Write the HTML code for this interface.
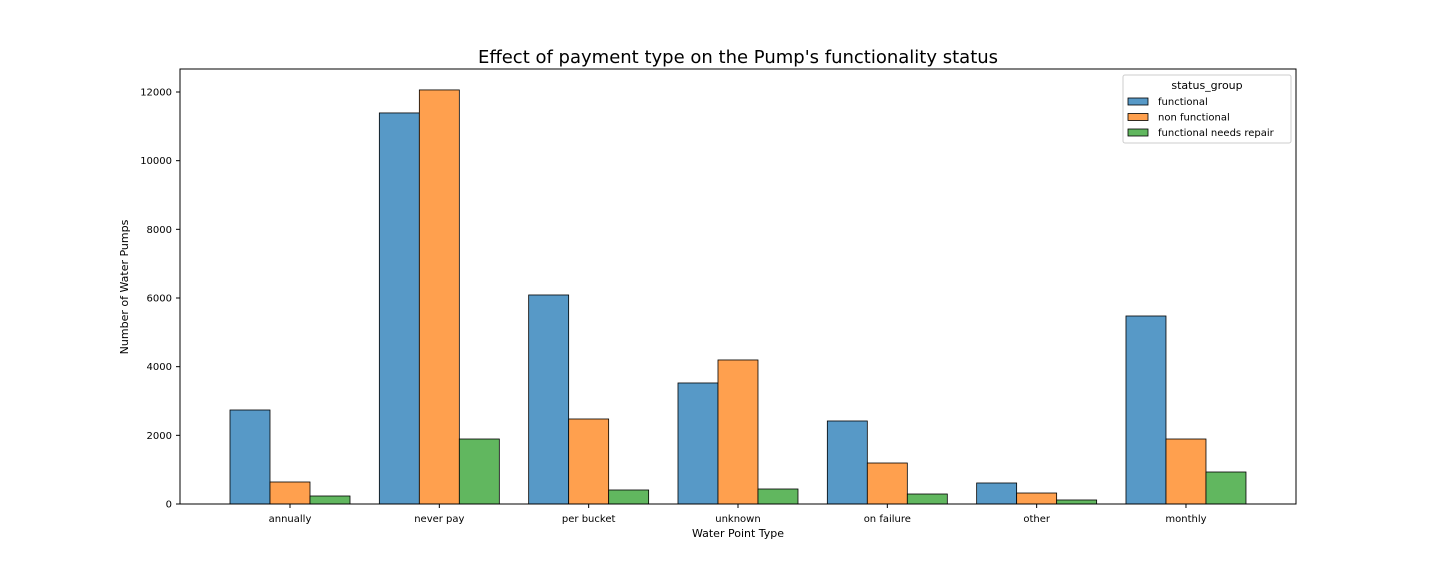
<!DOCTYPE html>
<html><head><meta charset="utf-8"><style>
body{margin:0;background:#fff;font-family:"Liberation Sans","DejaVu Sans",sans-serif}
svg text{font-family:"DejaVu Sans","Liberation Sans",sans-serif}
</style></head><body>
<svg id="chart" width="1440" height="576" xmlns="http://www.w3.org/2000/svg">
<rect width="1440" height="576" fill="#fff"/>
<text x="738" y="63" font-size="18" text-anchor="middle">Effect of payment type on the Pump's functionality status</text>
<g id="bars"></g>
<g id="yticks"></g>
<g id="xticks"></g>
<rect x="180" y="69" width="1116" height="435" fill="none" stroke="#000" stroke-width="1"/>
<text x="738" y="537" font-size="11" text-anchor="middle">Water Point  Type</text>
<text transform="translate(128,287) rotate(-90)" font-size="11" text-anchor="middle">Number of Water Pumps</text>
<g>
<rect x="1123" y="75" width="168" height="68" fill="#fff" stroke="#ccc" rx="2"/>
<text x="1207" y="89" font-size="11" text-anchor="middle">status_group</text>
<g id="legend-items"></g>
</g>
</svg>
<script>
const categories=["annually","never pay","per bucket","unknown","on failure","other","monthly"];
const seriesNames=["functional","non functional","functional needs repair"];
const functional=[2738,11390,6088,3525,2418,612,5476];
const nonFunctional=[641,12060,2476,4195,1194,320,1893];
const needsRepair=[233,1893,408,437,291,117,932];
const yTicks=[0,2000,4000,6000,8000,10000,12000];
const colors=["#5799c7","#ffa04e","#61b75f"];
const NS="http://www.w3.org/2000/svg";
const yBase=504;
const yScale=v=>yBase-v*(412/12000);
const xCenter=i=>290+i*149.33;
const bw=40;
function mk(t,a){const e=document.createElementNS(NS,t);for(const k in a)e.setAttribute(k,a[k]);return e;}
const series=[functional,nonFunctional,needsRepair];
const gb=document.getElementById('bars');
series.forEach((s,si)=>s.forEach((v,i)=>{
 const x=xCenter(i)-60+si*bw;
 const r=mk('rect',{x:x,y:yScale(v),width:bw,height:yBase-yScale(v),fill:colors[si],stroke:'#000','stroke-width':0.8});
 
 
 gb.appendChild(r);
}));
const gy=document.getElementById('yticks');
yTicks.forEach(t=>{
 const y=yScale(t);
 const l=mk('line',{x1:176,x2:180,y1:y,y2:y,stroke:'#000'});
 
 
 gy.appendChild(l);
 const tx=mk('text',{x:172,y:y+3.5,'font-size':10,'text-anchor':'end'});
 tx.textContent=t;
 
 
 gy.appendChild(tx);
});
const gx=document.getElementById('xticks');
categories.forEach((c,i)=>{
 const x=xCenter(i);
 const l=mk('line',{x1:x,x2:x,y1:504,y2:508,stroke:'#000'});
 
 
 gx.appendChild(l);
 const tx=mk('text',{x:x,y:522,'font-size':10,'text-anchor':'middle'});
 tx.textContent=c;
 
 
 gx.appendChild(tx);
});
const gl=document.getElementById('legend-items');
seriesNames.forEach((n,i)=>{
 const y=98+i*15.5;
 const r=mk('rect',{x:1128,y:y,width:20,height:7,fill:colors[i],stroke:'#000','stroke-width':0.8});
 
 
 gl.appendChild(r);
 const t=mk('text',{x:1158,y:y+7,'font-size':10});
 t.textContent=n;
 
 
 gl.appendChild(t);
});
</script>
</body></html>
